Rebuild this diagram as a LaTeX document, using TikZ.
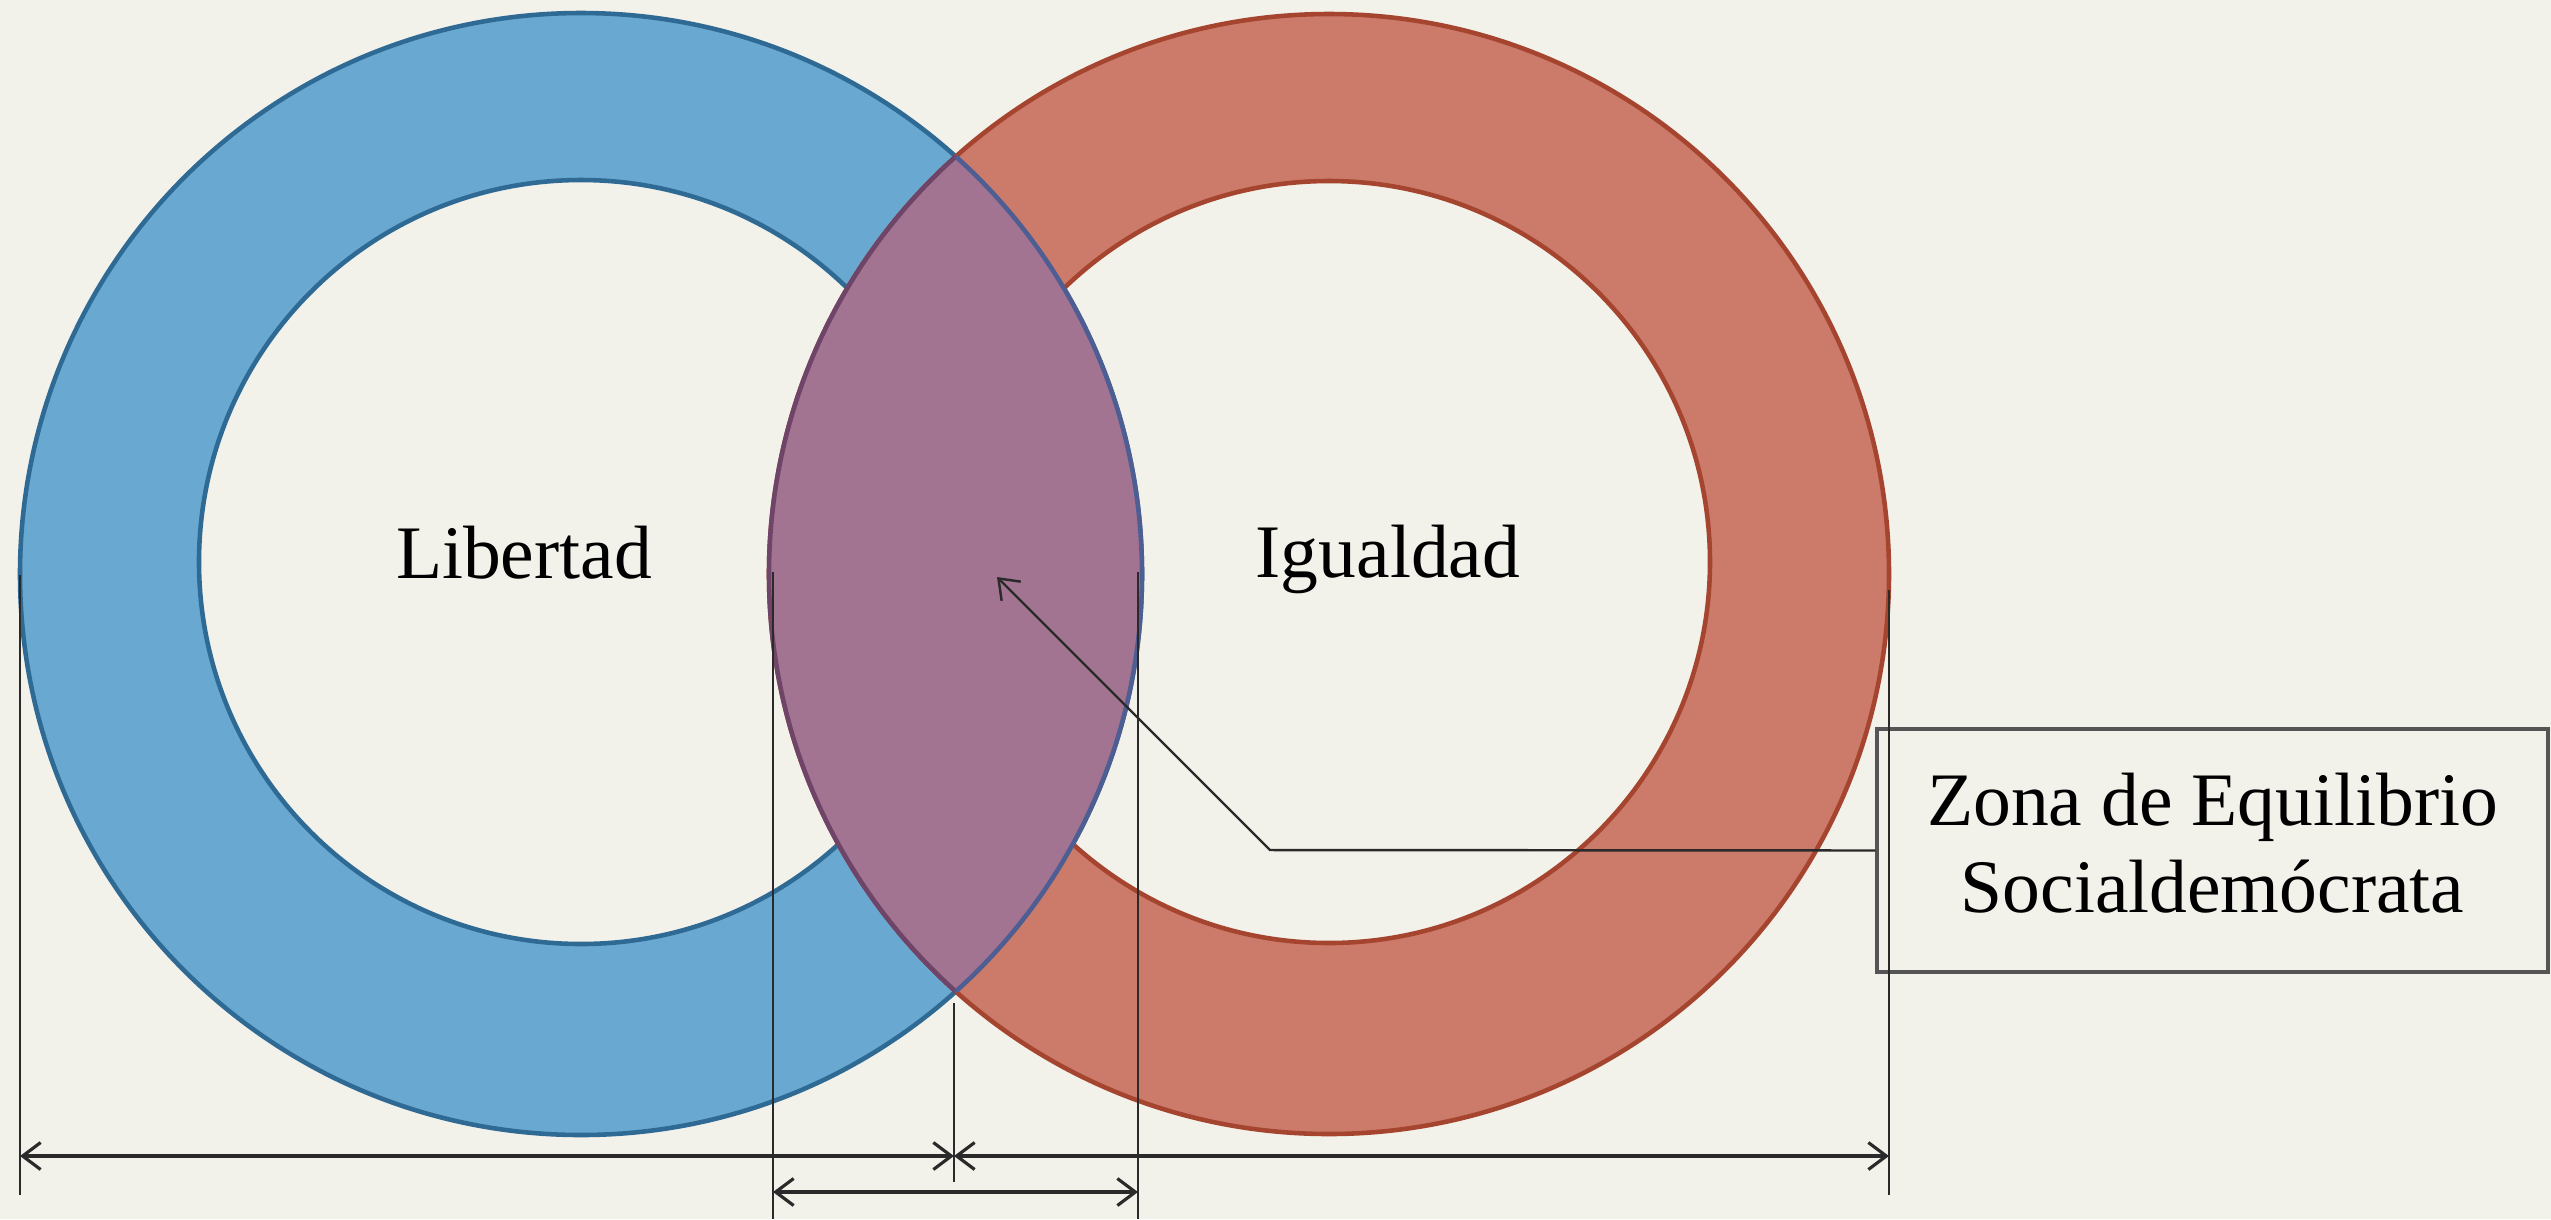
\documentclass[tikz,border=0pt]{standalone}
\usepackage{fontspec}
\setmainfont{Liberation Serif}
\usetikzlibrary{arrows.meta}
\definecolor{bg}{HTML}{F2F1EA}
\definecolor{bluefill}{HTML}{69A9D1}
\definecolor{bluestroke}{HTML}{2F6A95}
\definecolor{redfill}{HTML}{CC7B6A}
\definecolor{redstroke}{HTML}{A5452F}
\definecolor{lensfill}{HTML}{A27492}
\definecolor{lensred}{HTML}{6E4468}
\definecolor{lensblue}{HTML}{4E5E92}
\definecolor{ink}{HTML}{2A2A2A}
\definecolor{boxline}{HTML}{555555}
\begin{document}
\begin{tikzpicture}[x=0.1mm,y=-0.1mm,
  ringblue/.style={fill=bluefill, draw=bluestroke, line width=1.3pt, even odd rule},
  ringred/.style={fill=redfill, draw=redstroke, line width=1.3pt, even odd rule},
  barb/.tip={Straight Barb[length=1.8mm,width=2.7mm]},
  extline/.style={draw=ink, line width=0.7pt},
  dimarrow/.style={draw=ink, line width=0.9pt, barb-barb},
  leader/.style={draw=ink, line width=0.7pt, -barb},
  txt/.style={font=\fontsize{21.5pt}{24.75pt}\selectfont, inner sep=0pt, text=black},
  calloutbox/.style={txt, draw=boxline, fill=bg, line width=0.9pt, minimum width=67.1mm, minimum height=24.3mm, align=center}
]
% canvas
\fill[bg] (0,0) rectangle (2551,1219);
\useasboundingbox (0,0) rectangle (2551,1219);

% rings
\path[ringblue] (581,574) circle[radius=561] (581,562) circle[radius=382];
\path[ringred] (1329,574) circle[radius=560] (1329,562) circle[radius=381];

% lens (intersection)
\begin{scope}
  \clip (581,574) circle[radius=561];
  \fill[lensfill] (1329,574) circle[radius=560];
  \draw[lensred, line width=1.3pt] (1329,574) circle[radius=560];
\end{scope}
\begin{scope}
  \clip (1329,574) circle[radius=560];
  \draw[lensblue, line width=1.3pt] (581,574) circle[radius=561];
\end{scope}

% labels
\node[txt, anchor=base] (lib) at (524,578) {Libertad};
\node[txt, anchor=base] (igu) at (1388,577) {Igualdad};

% callout
\node[calloutbox] (callout) at (2212.5,850.5) {Zona de Equilibrio\\Socialdemócrata\rule[-1.5mm]{0pt}{1.5mm}};
\coordinate (bend) at (1270,850);
\coordinate (tip) at (997,577);
\draw[leader] (callout.west) -- (bend) -- (tip);

% extension lines
\coordinate (xLt) at (20,575);   \coordinate (xLb) at (20,1195);
\coordinate (xMt) at (954,1003); \coordinate (xMb) at (954,1182);
\coordinate (xRt) at (1889,590); \coordinate (xRb) at (1889,1195);
\coordinate (xAt) at (773,572);  \coordinate (xAb) at (773,1219);
\coordinate (xBt) at (1138,572); \coordinate (xBb) at (1138,1219);
\draw[extline] (xLt) -- (xLb);
\draw[extline] (xMt) -- (xMb);
\draw[extline] (xRt) -- (xRb);
\draw[extline] (xAt) -- (xAb);
\draw[extline] (xBt) -- (xBb);

% dimension arrows
\coordinate (dL) at (20,1156);
\coordinate (dM) at (954,1156);
\coordinate (dR) at (1889,1156);
\coordinate (eL) at (773,1192);
\coordinate (eR) at (1138,1192);
\draw[dimarrow] (dL) -- (dM);
\draw[dimarrow] (dM) -- (dR);
\draw[dimarrow] (eL) -- (eR);
\end{tikzpicture}
\end{document}
